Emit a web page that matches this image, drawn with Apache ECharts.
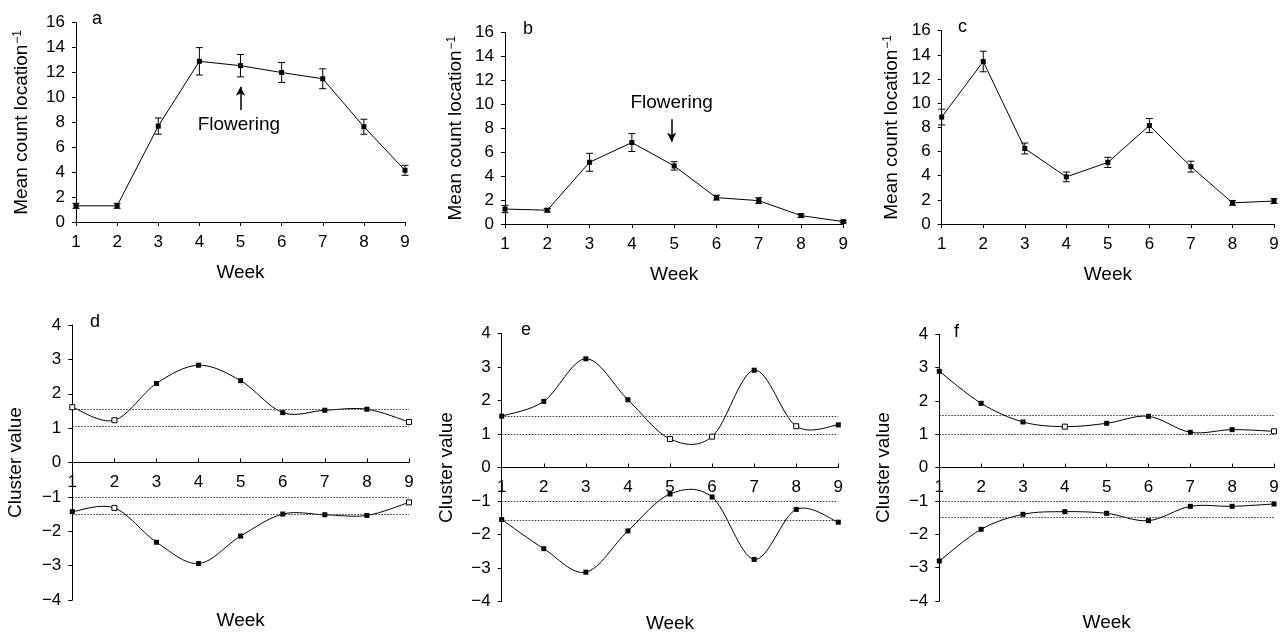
<!DOCTYPE html>
<html>
<head>
<meta charset="UTF-8">
<title>Weekly counts and cluster values</title>
<script src="https://cdn.jsdelivr.net/npm/echarts@6/dist/echarts.min.js"></script>
<style>
  html, body { margin: 0; padding: 0; background: #fff; }
  #chart { width: 1282px; height: 634px; }
</style>
</head>
<body>
<div id="chart"></div>
<script>
// weeks shared by all panels
var weeks = [1, 2, 3, 4, 5, 6, 7, 8, 9];

// panels a-c: mean count per location and error
var meanA = [1.3, 1.3, 7.7, 12.9, 12.55, 12.0, 11.5, 7.65, 4.15];
var errA  = [0.2, 0.2, 0.65, 1.1, 0.9, 0.8, 0.8, 0.6, 0.4];
var meanB = [1.25, 1.15, 5.15, 6.8, 4.85, 2.2, 1.95, 0.7, 0.2];
var errB  = [0.3, 0.15, 0.75, 0.75, 0.35, 0.2, 0.25, 0.15, 0.1];
var meanC = [8.85, 13.45, 6.25, 3.9, 5.1, 8.15, 4.75, 1.75, 1.9];
var errC  = [0.65, 0.85, 0.45, 0.4, 0.42, 0.58, 0.45, 0.2, 0.2];

// panels d-f: cluster values (upper / lower), 1 = open marker
var upperD = [1.61, 1.23, 2.30, 2.83, 2.38, 1.45, 1.52, 1.55, 1.18];
var upperOpenD = [1, 1, 0, 0, 0, 0, 0, 0, 1];
var lowerD = [-1.43, -1.32, -2.32, -2.94, -2.14, -1.50, -1.52, -1.54, -1.16];
var lowerOpenD = [0, 1, 0, 0, 0, 0, 0, 0, 1];
var threshD = [1.55, 1.05, -1.0, -1.5];

var upperE = [1.53, 1.97, 3.24, 2.02, 0.85, 0.92, 2.9, 1.23, 1.27];
var upperOpenE = [0, 0, 0, 0, 1, 1, 0, 1, 0];
var lowerE = [-1.55, -2.42, -3.12, -1.89, -0.79, -0.88, -2.74, -1.25, -1.63];
var lowerOpenE = [0, 0, 0, 0, 0, 0, 0, 0, 0];
var threshE = [1.53, 0.99, -1.01, -1.56];

var upperF = [2.89, 1.93, 1.37, 1.23, 1.33, 1.54, 1.06, 1.14, 1.09];
var upperOpenF = [0, 0, 0, 1, 0, 0, 0, 0, 1];
var lowerF = [-2.8, -1.85, -1.4, -1.32, -1.37, -1.59, -1.16, -1.16, -1.09];
var lowerOpenF = [0, 0, 0, 0, 0, 0, 0, 0, 0];
var threshF = [1.57, 1.01, -1.0, -1.5];

var panelLetters = ['a', 'b', 'c', 'd', 'e', 'f'];

var FONT = "'Liberation Sans', Arial, sans-serif";

var grids = [
    {left: 76, top: 22.7, width: 329, height: 199.3},
    {left: 505, top: 32.3, width: 338.3, height: 191.7},
    {left: 941.7, top: 30.7, width: 332.3, height: 193.3},
    {left: 72.3, top: 325, width: 336.7, height: 275},
    {left: 501.7, top: 333.3, width: 336.6, height: 268.4},
    {left: 939.3, top: 334.3, width: 334.7, height: 266.7}
];
var letterPos = [[92, 10], [523, 20], [958, 18], [90, 313], [521, 321], [954, 323]];
var yNameGap = [44, 39, 40, 47, 45, 46];
var xNameGap = [41, 41, 41, 149, 147, 146];

function minus(v) {
    return v < 0 ? '\u2212' + Math.abs(v) : String(v);
}

var xAxes = [], yAxes = [], series = [], titles = [];

grids.forEach(function (g, i) {
    var top = i < 3;
    g.outerBoundsMode = 'none';
    titles.push({
        text: panelLetters[i], left: letterPos[i][0], top: letterPos[i][1], padding: 0,
        textStyle: {fontSize: 18, fontWeight: 'normal', color: '#000', fontFamily: FONT}
    });
    xAxes.push({
        gridIndex: i, type: 'value', min: 1, max: 9, interval: 1,
        position: 'bottom',
        // bottom panels: x axis crosses y = 0 (middle of the -4..4 range)
        offset: top ? 0 : -g.height / 2,
        axisLine: {onZero: false, lineStyle: {color: '#000', width: 1}},
        axisTick: {show: true, inside: !top, length: 4, lineStyle: {color: '#000'}},
        axisLabel: {color: '#000', fontSize: 17, margin: top ? 12 : 11, fontFamily: FONT},
        splitLine: {show: false},
        name: 'Week', nameLocation: 'middle', nameGap: xNameGap[i],
        nameTextStyle: {fontSize: 19, color: '#000', fontFamily: FONT}
    });
    yAxes.push({
        gridIndex: i, type: 'value',
        min: top ? 0 : -4, max: top ? 16 : 4, interval: top ? 2 : 1,
        axisLine: {show: true, onZero: false, lineStyle: {color: '#000', width: 1}},
        axisTick: {show: true, length: 4, lineStyle: {color: '#000'}},
        axisLabel: {color: '#000', fontSize: 17, margin: 11, fontFamily: FONT, formatter: minus},
        splitLine: {show: false},
        name: top ? 'Mean count location{s|\u22121}' : 'Cluster value',
        nameLocation: 'middle', nameGap: yNameGap[i],
        nameTextStyle: {
            fontSize: 19, color: '#000', fontFamily: FONT,
            rich: {s: {fontSize: 12, color: '#000', fontFamily: FONT, verticalAlign: 'top', padding: [0, 0, 8, 1]}}
        }
    });
});

function errorBars(gi, means, errs) {
    return {
        type: 'custom', xAxisIndex: gi, yAxisIndex: gi, silent: true, z: 2,
        encode: {x: 0, y: [1, 2]},
        data: weeks.map(function (w, k) { return [w, means[k] - errs[k], means[k] + errs[k]]; }),
        renderItem: function (params, api) {
            var lo = api.coord([api.value(0), api.value(1)]);
            var hi = api.coord([api.value(0), api.value(2)]);
            var hw = 3.5, st = {stroke: '#000', lineWidth: 1};
            return {type: 'group', children: [
                {type: 'line', shape: {x1: lo[0], y1: lo[1], x2: hi[0], y2: hi[1]}, style: st},
                {type: 'line', shape: {x1: lo[0] - hw, y1: lo[1], x2: lo[0] + hw, y2: lo[1]}, style: st},
                {type: 'line', shape: {x1: hi[0] - hw, y1: hi[1], x2: hi[0] + hw, y2: hi[1]}, style: st}
            ]};
        }
    };
}

function meanLine(gi, means, extra) {
    var s = {
        type: 'line', xAxisIndex: gi, yAxisIndex: gi, z: 3, silent: true,
        data: weeks.map(function (w, k) { return [w, means[k]]; }),
        symbol: 'rect', symbolSize: 5,
        itemStyle: {color: '#000'},
        lineStyle: {color: '#000', width: 1}
    };
    if (extra) { for (var key in extra) { s[key] = extra[key]; } }
    return s;
}

// spreadsheet-style smoothed curve: one cubic segment per pair of weeks
function smoothCurve(gi, vals) {
    var n = vals.length;
    return {
        type: 'custom', xAxisIndex: gi, yAxisIndex: gi, silent: true, z: 2,
        encode: {x: 0, y: 1},
        data: weeks.map(function (w, k) { return [w, vals[k]]; }),
        renderItem: function (params, api) {
            var k = params.dataIndex;
            if (k >= n - 1) { return null; }
            var P = function (j) {
                j = Math.max(0, Math.min(n - 1, j));
                return api.coord([weeks[j], vals[j]]);
            };
            var p0 = P(k - 1), p1 = P(k), p2 = P(k + 1), p3 = P(k + 2);
            return {
                type: 'bezierCurve',
                shape: {
                    x1: p1[0], y1: p1[1], x2: p2[0], y2: p2[1],
                    cpx1: p1[0] + (p2[0] - p0[0]) / 6, cpy1: p1[1] + (p2[1] - p0[1]) / 6,
                    cpx2: p2[0] - (p3[0] - p1[0]) / 6, cpy2: p2[1] - (p3[1] - p1[1]) / 6
                },
                style: {stroke: '#000', fill: 'none', lineWidth: 1}
            };
        }
    };
}

function clusterMarks(gi, vals, open, thresh) {
    var s = {
        type: 'line', xAxisIndex: gi, yAxisIndex: gi, z: 3, silent: true,
        data: weeks.map(function (w, k) {
            return {
                value: [w, vals[k]],
                itemStyle: open[k] ? {color: '#fff', borderColor: '#000', borderWidth: 1} : {color: '#000', borderWidth: 0}
            };
        }),
        symbol: 'rect', symbolSize: 5, showAllSymbol: true,
        lineStyle: {width: 0, opacity: 0}
    };
    if (thresh) {
        s.markLine = {
            silent: true, symbol: ['none', 'none'], label: {show: false},
            lineStyle: {color: '#333', type: [1.5, 1.5], width: 1, opacity: 1},
            data: thresh.map(function (t) { return {yAxis: t}; })
        };
    }
    return s;
}

function flowering(x, from, to, lx, ly) {
    return {
        markLine: {
            silent: true, symbol: ['none', 'arrow'], symbolSize: [7, 9], label: {show: false},
            lineStyle: {color: '#000', type: 'solid', width: 1.5},
            data: [[{coord: [x, from]}, {coord: [x, to]}]]
        },
        markPoint: {
            silent: true, symbol: 'circle', symbolSize: 0,
            itemStyle: {color: 'transparent'},
            label: {show: true, position: 'inside', formatter: 'Flowering', color: '#000', fontSize: 19, fontFamily: FONT},
            data: [{coord: [lx, ly]}]
        }
    };
}

series.push(errorBars(0, meanA, errA));
series.push(meanLine(0, meanA, flowering(5, 9.0, 10.85, 4.96, 7.8)));
series.push(errorBars(1, meanB, errB));
series.push(meanLine(1, meanB, flowering(4.94, 8.74, 6.87, 4.94, 10.1)));
series.push(errorBars(2, meanC, errC));
series.push(meanLine(2, meanC));

series.push(smoothCurve(3, upperD), clusterMarks(3, upperD, upperOpenD, threshD));
series.push(smoothCurve(3, lowerD), clusterMarks(3, lowerD, lowerOpenD));
series.push(smoothCurve(4, upperE), clusterMarks(4, upperE, upperOpenE, threshE));
series.push(smoothCurve(4, lowerE), clusterMarks(4, lowerE, lowerOpenE));
series.push(smoothCurve(5, upperF), clusterMarks(5, upperF, upperOpenF, threshF));
series.push(smoothCurve(5, lowerF), clusterMarks(5, lowerF, lowerOpenF));

var myChart = echarts.init(document.getElementById('chart'), null, {renderer: 'canvas'});
myChart.setOption({
    animation: false,
    backgroundColor: '#fff',
    textStyle: {fontFamily: FONT},
    title: titles,
    grid: grids,
    xAxis: xAxes,
    yAxis: yAxes,
    series: series
});
</script>
</body>
</html>
